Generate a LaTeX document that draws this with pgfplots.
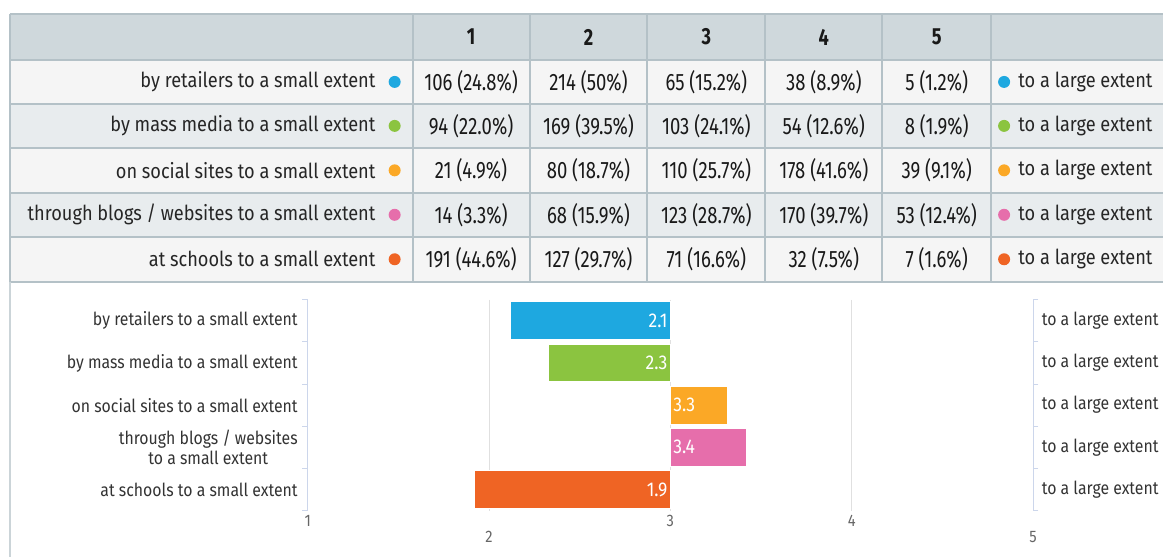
\documentclass[border=0pt]{standalone}
\usepackage{pgfplots}
\pgfplotsset{compat=1.18}
\usepackage{fontspec}
\setmainfont{Fira Sans}[FakeStretch=0.88]
\newfontfamily\cond{Fira Sans}[FakeStretch=0.78]
\definecolor{hdr}{HTML}{CFD8DC}
\definecolor{rowA}{HTML}{F5F5F5}
\definecolor{rowB}{HTML}{E8ECEE}
\definecolor{tline}{HTML}{B4C1C7}
\definecolor{cblue}{HTML}{1EA8E0}
\definecolor{cgreen}{HTML}{8BC440}
\definecolor{corange}{HTML}{FBA826}
\definecolor{cpink}{HTML}{E66EAB}
\definecolor{cred}{HTML}{EF6424}
\definecolor{axisblue}{HTML}{CCD6EB}
\definecolor{gridgray}{HTML}{E0E0E0}
\definecolor{tickgray}{HTML}{666666}
\definecolor{labgray}{HTML}{333333}
\newcommand{\lo}[1]{\raisebox{-12pt}[\height][\depth]{#1}}
\begin{document}
\begin{tikzpicture}
\begin{scope}[x=0.75pt,y=0.75pt]
\path[use as bounding box] (0,0) rectangle (1163,557);
% table backgrounds
\fill[hdr] (10,543) rectangle (1175,497);
\fill[rowA] (10,497) rectangle (1175,453);
\fill[rowB] (10,453) rectangle (1175,409);
\fill[rowA] (10,409) rectangle (1175,364);
\fill[rowB] (10,364) rectangle (1175,320);
\fill[rowA] (10,320) rectangle (1175,275);
% grid lines
\begin{scope}[draw=tline, line width=1.5pt]
\foreach \yy in {543,497,453,409,364,320,275} {\draw (10,\yy) -- (1175,\yy);}
\foreach \xx in {10,413,530,648,766,883,992} {\draw (\xx,543) -- (\xx,275);}
\draw[line width=1.2pt, draw=tline!70] (10,275) -- (10,0);
\end{scope}
% header
\foreach \xx/\t in {471.5/1,589/2,707/3,824.5/4,937.5/5}
  {\node[font=\cond\bfseries\fontsize{17.5}{17.5}\selectfont, text=black!90] at (\xx,520) {\t};}
% row labels and dots
\foreach \yy/\t/\c in {475/{by retailers to a small extent}/cblue,
                       431/{by mass media to a small extent}/cgreen,
                       386.5/{on social sites to a small extent}/corange,
                       342/{through blogs / websites to a small extent}/cpink,
                       297.5/{at schools to a small extent}/cred}
{
  \node[anchor=east, inner sep=0pt, font=\fontsize{15.5}{16}\selectfont, text=black!85] at (376,\yy) {\t};
  \fill[\c] (395,\yy) circle (6);
  \fill[\c] (1005,\yy) circle (6);
  \node[anchor=west, inner sep=0pt, font=\fontsize{15.5}{16}\selectfont, text=black!85] at (1019,\yy) {to a large extent};
}
% numbers
\foreach \yy/\a/\b/\c/\d/\e in {
  475/106 (24.8\%)/214 (50\%)/65 (15.2\%)/38 (8.9\%)/5 (1.2\%),
  431/94 (22.0\%)/169 (39.5\%)/103 (24.1\%)/54 (12.6\%)/8 (1.9\%),
  386.5/21 (4.9\%)/80 (18.7\%)/110 (25.7\%)/178 (41.6\%)/39 (9.1\%),
  342/14 (3.3\%)/68 (15.9\%)/123 (28.7\%)/170 (39.7\%)/53 (12.4\%),
  297.5/191 (44.6\%)/127 (29.7\%)/71 (16.6\%)/32 (7.5\%)/7 (1.6\%)}
{
  \foreach \xx/\t in {471.5/\a,589/\b,707/\c,824.5/\d,937.5/\e}
    {\node[font=\cond\fontsize{17.8}{18}\selectfont, text=black!90] at (\xx,\yy) {\t};}
}
\end{scope}
\begin{axis}[
  at={(231pt,34.5pt)}, anchor=south west,
  scale only axis, width=544.5pt, height=158.25pt,
  xmin=1, xmax=5, ymin=0.5, ymax=5.5, y dir=reverse,
  xtick={1,2,3,4,5}, xticklabels={1,\lo{2},3,4,\lo{5}},
  ytick={1,2,3,4,5},
  yticklabels={by retailers to a small extent, by mass media to a small extent,
    on social sites to a small extent, {through blogs / websites\\to a small extent},
    at schools to a small extent},
  minor ytick={0.5,1.5,2.5,3.5,4.5,5.5},
  major tick length=0pt, minor tick length=4pt, tick align=outside,
  xmajorgrids, major grid style={draw=gridgray, line width=0.75pt},
  separate axis lines,
  x axis line style={draw=none},
  y axis line style={draw=axisblue, line width=0.75pt},
  minor tick style={draw=axisblue, line width=0.75pt},
  yticklabel style={align=center, font=\fontsize{13.5}{14.5}\selectfont, text=labgray, xshift=-4pt},
  xticklabel style={font=\fontsize{12.5}{12.5}\selectfont, text=tickgray},
  clip=false,
]
\addplot[fill=cblue, draw=white, line width=0.75pt] coordinates {(3,0.55)(2.117,0.55)(2.117,1.45)(3,1.45)} -- cycle;
\addplot[fill=cgreen, draw=white, line width=0.75pt] coordinates {(3,1.55)(2.329,1.55)(2.329,2.45)(3,2.45)} -- cycle;
\addplot[fill=corange, draw=white, line width=0.75pt] coordinates {(3,2.55)(3.313,2.55)(3.313,3.45)(3,3.45)} -- cycle;
\addplot[fill=cpink, draw=white, line width=0.75pt] coordinates {(3,3.55)(3.421,3.55)(3.421,4.45)(3,4.45)} -- cycle;
\addplot[fill=cred, draw=white, line width=0.75pt] coordinates {(3,4.55)(1.918,4.55)(1.918,5.45)(3,5.45)} -- cycle;
\begin{scope}[every node/.style={text=white, font=\fontsize{15}{15}\selectfont, inner sep=2pt}]
\node[anchor=east] at (axis cs:3,1) {2.1};
\node[anchor=east] at (axis cs:3,2) {2.3};
\node[anchor=west] at (axis cs:3,3) {3.3};
\node[anchor=west] at (axis cs:3,4) {3.4};
\node[anchor=east] at (axis cs:3,5) {1.9};
\end{scope}
\foreach \k in {1,...,5} {
  \edef\tmp{\noexpand\node[anchor=west, text=labgray, font=\noexpand\fontsize{13.5}{14}\noexpand\selectfont, xshift=3pt] at (axis cs:5,\k) {to a large extent};}
  \tmp
}
\end{axis}
\end{tikzpicture}
\end{document}
